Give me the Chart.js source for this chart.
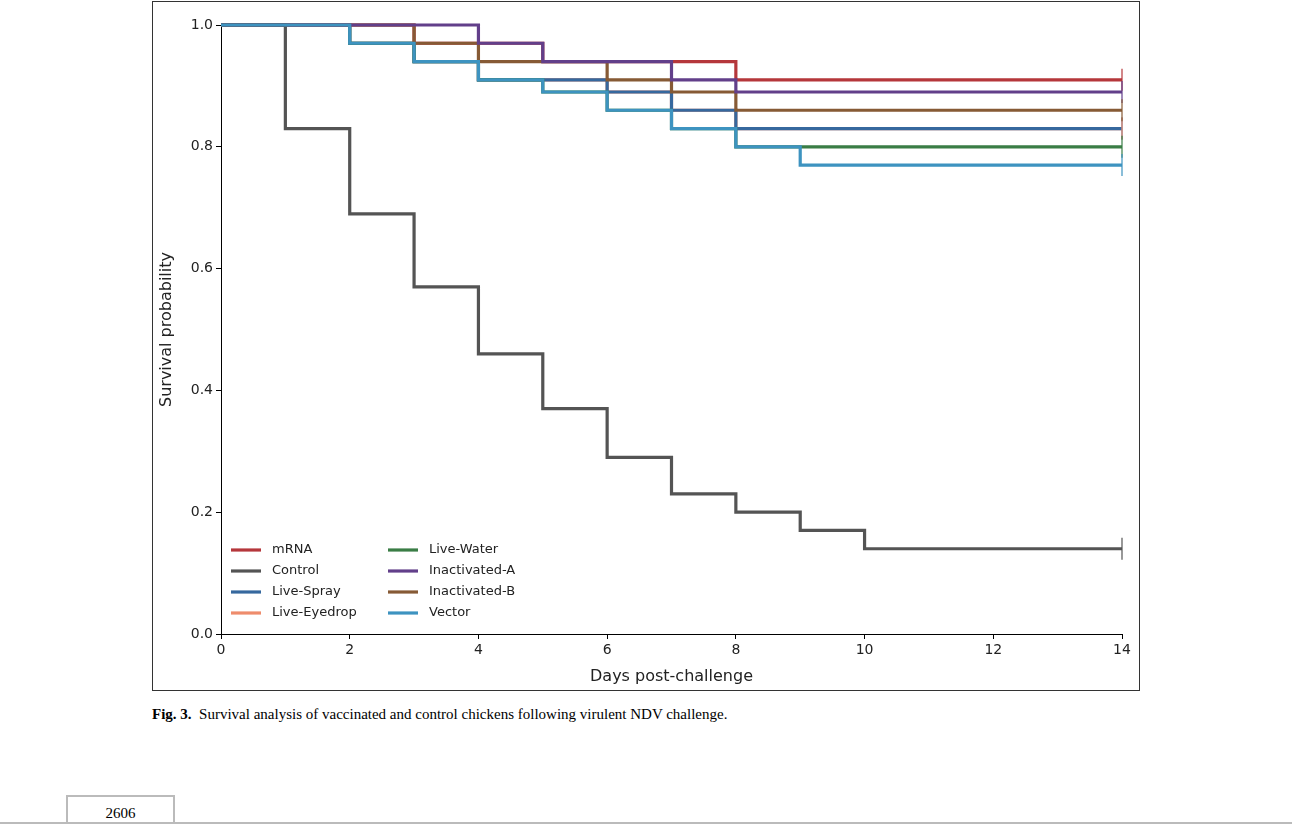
<!DOCTYPE html>
<html><head><meta charset="utf-8">
<script src="https://cdn.jsdelivr.net/npm/chart.js@4"></script>
<style>
body{margin:0;background:#fff;width:1292px;height:824px;position:relative;overflow:hidden;font-family:"DejaVu Sans",sans-serif}
#frame{position:absolute;left:152px;top:1px;width:986px;height:688px;border:1px solid #333}
#frame canvas{position:absolute;left:0;top:0}
#cap{position:absolute;left:152px;top:706px;font-family:"Liberation Serif",serif;font-size:15px}
#pg{position:absolute;left:66px;top:795px;width:105px;height:30px;border:2px solid #bbb;border-bottom:none;text-align:center;font-family:"Liberation Serif",serif;font-size:15px;line-height:32px}
#rule{position:absolute;left:0;right:0;top:822px;border-top:2px solid #bbb}
</style></head><body>
<div id="frame"><canvas id="c" width="986" height="688"></canvas></div>
<div id="cap"><b>Fig. 3.</b>&nbsp; Survival analysis of vaccinated and control chickens following virulent NDV challenge.</div>
<div id="rule"></div><div id="pg">2606</div>
<script>
// survival steps: event day, survival after
const names = ['mRNA','Control','Live-Spray','Live-Eyedrop','Live-Water','Inactivated-A','Inactivated-B','Vector'];
const colors = ['#b5373b','#545454','#36689e','#ee8c6c','#3a7d45','#623f8a','#865a35','#3d93c0'];
const mrnaDays = [0,3,5,8,14], mrnaSurv = [1,0.97,0.94,0.91,0.91];
const controlDays = [0,1,2,3,4,5,6,7,8,9,10,14], controlSurv = [1,0.83,0.69,0.57,0.46,0.37,0.29,0.23,0.20,0.17,0.14,0.14];
const sprayDays = [0,2,3,4,5,6,7,8,14], spraySurv = [1,0.97,0.94,0.91,0.91,0.89,0.86,0.83,0.83];
const eyeDays = [0,2,3,4,6,7,8,14], eyeSurv = [1,0.97,0.94,0.91,0.89,0.86,0.83,0.83];
const waterDays = [0,2,3,4,5,6,7,8,9,14], waterSurv = [1,0.97,0.94,0.91,0.89,0.86,0.83,0.80,0.80,0.80];
const inaDays = [0,4,5,7,8,14], inaSurv = [1,0.97,0.94,0.91,0.89,0.89];
const inbDays = [0,3,4,6,7,8,14], inbSurv = [1,0.97,0.94,0.91,0.89,0.86,0.86];
const vecDays = [0,2,3,4,5,6,7,8,9,14], vecSurv = [1,0.97,0.94,0.91,0.89,0.86,0.83,0.80,0.77,0.77];
const xTicks = [0,2,4,6,8,10,12,14];

const series = [[mrnaDays,mrnaSurv],[controlDays,controlSurv],[sprayDays,spraySurv],[eyeDays,eyeSurv],
  [waterDays,waterSurv],[inaDays,inaSurv],[inbDays,inbSurv],[vecDays,vecSurv]];
// draw order: later on top
const order = [3,2,4,0,6,5,1,7];
const datasets = series.map((s,i)=>({
  label:names[i], data:s[0].map((d,j)=>({x:d,y:s[1][j]})),
  borderColor:colors[i], backgroundColor:colors[i], borderWidth:3.2, stepped:true,
  pointRadius:0, fill:false, clip:false, order:8-order.indexOf(i)
}));

const censor = {id:'censor', afterDatasetsDraw(ch){
  const c=ch.ctx; c.save(); c.lineWidth=1.2;
  series.forEach((s,i)=>{
    const x=ch.scales.x.getPixelForValue(14), y=ch.scales.y.getPixelForValue(s[1][s[1].length-1]);
    c.strokeStyle=colors[i]; c.beginPath(); c.moveTo(x,y-11); c.lineTo(x,y+11); c.stroke();
  });
  // legend
  c.font='13px "DejaVu Sans"'; c.textBaseline='middle'; c.fillStyle='#222';
  names.forEach((n,i)=>{
    const col=Math.floor(i/4), row=i%4;
    const x=78+col*157, y=548+row*21;
    c.strokeStyle=colors[i]; c.lineWidth=3.2; c.beginPath(); c.moveTo(x,y); c.lineTo(x+30,y); c.stroke();
    c.fillText(n,x+41,y);
  });
  c.restore();
}};

new Chart(document.getElementById('c'),{
  type:'line', data:{datasets},
  options:{responsive:false, animation:false,
    layout:{padding:{left:0,top:23,right:17,bottom:0}},
    plugins:{legend:{display:false},tooltip:{enabled:false}},
    scales:{
      x:{type:'linear',min:0,max:14,afterBuildTicks(a){a.ticks=xTicks.map(v=>({value:v}));},
        afterFit(a){a.height=56;},
        grid:{drawOnChartArea:false,tickLength:5,color:'#000'},border:{color:'#000'},
        ticks:{color:'#222',font:{size:14,family:'DejaVu Sans'},maxRotation:0},
        title:{display:true,text:'Days post-challenge',color:'#222',font:{size:16,family:'DejaVu Sans'},padding:{top:2}}},
      y:{min:0,max:1,afterFit(a){a.width=68;},
        grid:{drawOnChartArea:false,tickLength:5,color:'#000'},border:{color:'#000'},
        ticks:{stepSize:0.2,color:'#222',font:{size:14,family:'DejaVu Sans'},callback:v=>v.toFixed(1)},
        title:{display:true,text:'Survival probability',color:'#222',font:{size:16,family:'DejaVu Sans'},padding:{bottom:4}}}
    }},
  plugins:[censor]
});
</script>
</body></html>
